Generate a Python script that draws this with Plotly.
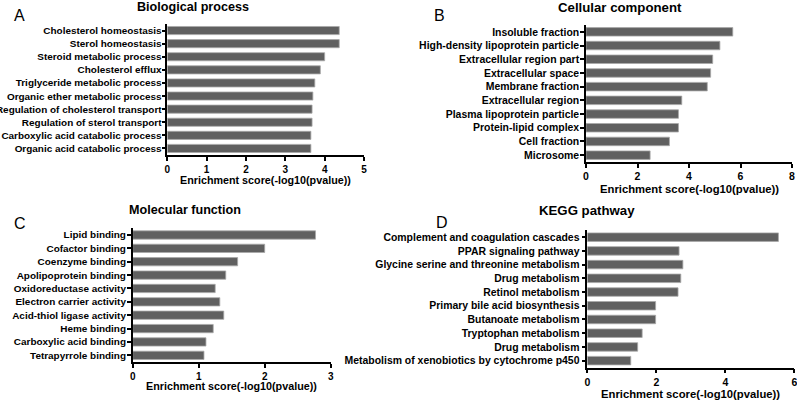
import plotly.graph_objects as go

W, H = 797, 401

# ---------------- data ----------------
bp_terms = ["Cholesterol homeostasis", "Sterol homeostasis", "Steroid metabolic process",
            "Cholesterol efflux", "Triglyceride metabolic process", "Organic ether metabolic process",
            "Regulation of cholesterol transport", "Regulation of sterol transport",
            "Carboxylic acid catabolic process", "Organic acid catabolic process"]
bp_scores = [4.37, 4.37, 4.00, 3.89, 3.75, 3.70, 3.68, 3.68, 3.65, 3.65]

cc_terms = ["Insoluble fraction", "High-density lipoprotein particle", "Extracellular region part",
            "Extracellular space", "Membrane fraction", "Extracellular region",
            "Plasma lipoprotein particle", "Protein-lipid complex", "Cell fraction", "Microsome"]
cc_scores = [5.70, 5.20, 4.92, 4.84, 4.71, 3.72, 3.59, 3.59, 3.24, 2.49]

mf_terms = ["Lipid binding", "Cofactor binding", "Coenzyme binding", "Apolipoprotein binding",
            "Oxidoreductase activity", "Electron carrier activity", "Acid-thiol ligase activity",
            "Heme binding", "Carboxylic acid binding", "Tetrapyrrole binding"]
mf_scores = [2.77, 2.00, 1.59, 1.41, 1.25, 1.32, 1.38, 1.22, 1.11, 1.08]

kegg_terms = ["Complement and coagulation cascades", "PPAR signaling pathway",
              "Glycine serine and threonine metabolism", "Drug metabolism", "Retinol metabolism",
              "Primary bile acid biosynthesis", "Butanoate metabolism", "Tryptophan metabolism",
              "Drug metabolism", "Metabolism of xenobiotics by cytochrome p450"]
kegg_scores = [5.54, 2.66, 2.77, 2.71, 2.63, 1.98, 1.98, 1.59, 1.46, 1.26]

panel_titles = ["Biological process", "Cellular component", "Molecular function", "KEGG pathway"]
panel_letters = ["A", "B", "C", "D"]
x_title = "Enrichment score(-log10(pvalue))"
x_ranges = [5, 8, 3, 6]
x_dticks = [1, 2, 1, 2]

# ---------------- layout (pixel geometry) ----------------
# (x_left, x_right, y_top, y_bottom) of each plot area in pixels
boxes = [(167.3, 364.0, 24.0, 155.0),
         (586.0, 792.0, 25.0, 162.0),
         (132.7, 330.7, 228.3, 362.0),
         (587.3, 794.3, 230.3, 367.5)]
font_scale = [1.0, 1.05, 1.0, 1.05]
label_standoff = [-2, -1, -1, 0]
title_pos = [(193, 6.5), (620, 7), (184.7, 209.5), (587, 210)]
letter_pos = [(19, 15), (439, 15), (19.5, 223.5), (442, 222.5)]
xtitle_y = [179.5, 189, 386, 394]

FONT = "Liberation Sans, Arial, Helvetica, sans-serif"
BAR_FILL = "#606060"
BAR_EDGE = "#a8a8a8"

fig = go.Figure()
panels = [(bp_terms, bp_scores), (cc_terms, cc_scores), (mf_terms, mf_scores), (kegg_terms, kegg_scores)]

annotations = []
for i, (terms, scores) in enumerate(panels):
    n = i + 1
    s = font_scale[i]
    xa = "x" if n == 1 else f"x{n}"
    ya = "y" if n == 1 else f"y{n}"
    pos = list(range(len(terms)))
    fig.add_trace(go.Bar(
        x=scores, y=pos, orientation="h", width=0.62,
        marker=dict(color=BAR_FILL, line=dict(color=BAR_EDGE, width=0.8)),
        xaxis=xa, yaxis=ya, showlegend=False, hoverinfo="x+text", text=terms,
        textposition="none", cliponaxis=False))
    xl, xr, yt, yb = boxes[i]
    xkey = "xaxis" if n == 1 else f"xaxis{n}"
    ykey = "yaxis" if n == 1 else f"yaxis{n}"
    fig.update_layout({
        xkey: dict(domain=[xl / W, xr / W], anchor=ya, range=[0, x_ranges[i]],
                   dtick=x_dticks[i], tick0=0, showgrid=False, zeroline=False,
                   showline=True, linecolor="black", linewidth=1.5,
                   ticks="outside", ticklen=4, tickwidth=1.5, tickcolor="black",
                   ticklabeloverflow="allow",
                   tickfont=dict(family=FONT, size=10 * s, color="black", weight="bold"),
                   automargin=False, fixedrange=True),
        ykey: dict(domain=[1 - yb / H, 1 - yt / H], anchor=xa, range=[len(terms) - 0.5, -0.5],
                   tickmode="array", tickvals=pos, ticktext=terms,
                   showgrid=False, zeroline=False,
                   showline=True, linecolor="black", linewidth=1.5,
                   ticks="outside", ticklen=4, tickwidth=1.5, tickcolor="black",
                   ticklabelstandoff=label_standoff[i], ticklabeloverflow="allow",
                   tickfont=dict(family=FONT, size=9.95 * s, color="black", weight="bold"),
                   automargin=False, fixedrange=True),
    })
    tx, ty = title_pos[i]
    annotations.append(dict(text=panel_titles[i], x=tx / W, y=1 - ty / H, xref="paper", yref="paper",
                            xanchor="center", yanchor="middle", showarrow=False,
                            font=dict(family=FONT, size=12.6 * s, color="black", weight="bold")))
    lx, ly = letter_pos[i]
    annotations.append(dict(text=panel_letters[i], x=lx / W, y=1 - ly / H, xref="paper", yref="paper",
                            xanchor="center", yanchor="middle", showarrow=False,
                            font=dict(family=FONT, size=16, color="black")))
    annotations.append(dict(text=x_title, x=(xl + xr) / 2 / W, y=1 - xtitle_y[i] / H,
                            xref="paper", yref="paper", xanchor="center", yanchor="middle",
                            showarrow=False,
                            font=dict(family=FONT, size=10.75 * s, color="black", weight="bold")))

fig.update_layout(width=W, height=H, margin=dict(l=0, r=0, t=0, b=0, autoexpand=False),
                  paper_bgcolor="white", plot_bgcolor="white",
                  annotations=annotations, bargap=0.38)

fig.write_html("out.html", config={"displayModeBar": False},
               post_script="document.body.style.margin='0';")
